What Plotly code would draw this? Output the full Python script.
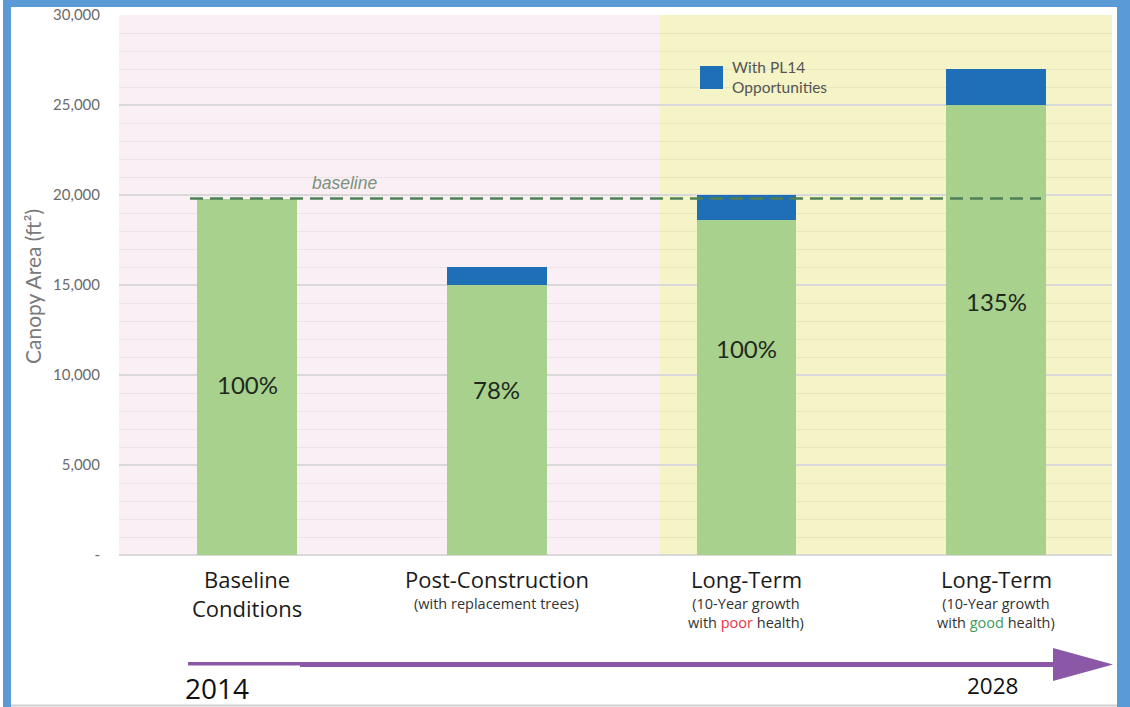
import plotly.graph_objects as go

# ---------------- data ----------------
categories = ["Baseline Conditions", "Post-Construction", "Long-Term (poor)", "Long-Term (good)"]
canopy_base = [19800, 15000, 18600, 25000]       # green portion
pl14_extra = [0, 1000, 1400, 2000]                # blue portion (With PL14 Opportunities)
pct_labels = ["100%", "78%", "100%", "135%"]
pct_label_y = [9500, 9200, 11500, 14100]
baseline_value = 19800
y_tickvals = [0, 5000, 10000, 15000, 20000, 25000, 30000]
y_ticktext = ["-", "5,000", "10,000", "15,000", "20,000", "25,000", "30,000"]
x_titles = ["Baseline<br>Conditions", "Post-Construction", "Long-Term", "Long-Term"]
x_subtitles = ["", "(with replacement trees)",
               "(10-Year growth<br>with <span style='color:#e5354c'>poor</span> health)",
               "(10-Year growth<br>with <span style='color:#3d9a5c'>good</span> health)"]
year_start, year_end = "2014", "2028"

# ---------------- layout helpers ----------------
W, H = 1130, 707
L, R, T, B = 119, 18, 15, 152
PW, PH = W - L - R, H - T - B


def px(x):
    return (x - L) / PW


def py(y):
    return (H - B - y) / PH


GREEN = "#a9d18e"
BLUE = "#1f6fb6"
PURPLE = "#8b58a8"

fig = go.Figure()
fig.add_trace(go.Bar(x=categories, y=canopy_base, marker=dict(color=GREEN, line=dict(width=0)),
                     width=0.4, showlegend=False, hoverinfo="skip"))
fig.add_trace(go.Bar(x=categories, y=pl14_extra, marker=dict(color=BLUE, line=dict(width=0)),
                     width=0.4, showlegend=False, hoverinfo="skip"))

shapes = []
# background bands
shapes.append(dict(type="rect", xref="paper", yref="paper", x0=0, x1=px(660), y0=0, y1=1,
                   fillcolor="#f9eff5", line=dict(width=0), layer="below"))
shapes.append(dict(type="rect", xref="paper", yref="paper", x0=px(660), x1=1, y0=0, y1=1,
                   fillcolor="#f4f4c6", line=dict(width=0), layer="below"))
# baseline dashed line
shapes.append(dict(type="line", xref="paper", yref="y", x0=px(190), x1=px(1041), y0=baseline_value,
                   y1=baseline_value, line=dict(color="#4f8057", width=2.5, dash="13px,7px")))
# legend swatch
shapes.append(dict(type="rect", xref="paper", yref="paper", x0=px(700), x1=px(723), y0=py(89), y1=py(66),
                   fillcolor=BLUE, line=dict(width=0)))
# timeline arrow
shapes.append(dict(type="line", xref="paper", yref="paper", x0=px(188), x1=px(1060), y0=py(664.5), y1=py(664.5),
                   line=dict(color=PURPLE, width=5)))
shapes.append(dict(type="path", xref="paper", yref="paper",
                   path=f"M {px(1053)} {py(648)} L {px(1113)} {py(664.5)} L {px(1053)} {py(681)} Z",
                   fillcolor=PURPLE, line=dict(width=0)))
# white box behind 2014
shapes.append(dict(type="rect", xref="paper", yref="paper", x0=px(150), x1=px(300), y0=py(704), y1=py(665.5),
                   fillcolor="white", line=dict(width=0)))
# frame
FRAME = "#5b9bd5"
shapes.append(dict(type="rect", xref="paper", yref="paper", x0=px(3), x1=px(11), y0=py(707), y1=py(0),
                   fillcolor=FRAME, line=dict(width=0)))
shapes.append(dict(type="rect", xref="paper", yref="paper", x0=px(3), x1=px(1130), y0=py(7), y1=py(0),
                   fillcolor=FRAME, line=dict(width=0)))
shapes.append(dict(type="rect", xref="paper", yref="paper", x0=px(1117), x1=px(1130), y0=py(707), y1=py(0),
                   fillcolor=FRAME, line=dict(width=0)))
shapes.append(dict(type="line", xref="paper", yref="paper", x0=px(11), x1=px(1117), y0=py(705.5), y1=py(705.5),
                   line=dict(color="#d0d0d0", width=2)))

ann = []
LABEL_FONT = "Open Sans"
TITLE_SIZE, SUB_SIZE = 22, 14.5


def paper_text(x, y, text, **kw):
    d = dict(x=px(x), y=py(y), xref="paper", yref="paper", text=text, showarrow=False,
             xanchor="center", yanchor="middle", borderpad=0)
    d.update(kw)
    ann.append(d)


for cat, lab, yv in zip(categories, pct_labels, pct_label_y):
    ann.append(dict(x=cat, y=yv, xref="x", yref="y", text=lab, showarrow=False,
                    xanchor="center", yanchor="middle",
                    font=dict(family="Lato", size=24, color="#1e2a1e")))
for cat, t, s in zip(categories, x_titles, x_subtitles):
    n = t.count("<br>")
    ann.append(dict(x=cat, y=py(579 + n * 1.3 * TITLE_SIZE / 2), xref="x", yref="paper", text=t,
                    showarrow=False, xanchor="center", yanchor="middle", borderpad=0,
                    font=dict(family=LABEL_FONT, size=TITLE_SIZE, color="#1a1a1a")))
    if s:
        m = s.count("<br>")
        ann.append(dict(x=cat, y=py(603.5 + m * 1.3 * SUB_SIZE / 2), xref="x", yref="paper", text=s,
                        showarrow=False, xanchor="center", yanchor="middle", borderpad=0,
                        font=dict(family=LABEL_FONT, size=SUB_SIZE, color="#333333")))

paper_text(344, 183, "<i>baseline</i>", font=dict(family="Liberation Sans", size=17.5, color="#7b927d"))
paper_text(731, 77.5, "With PL14<br>Opportunities", xanchor="left", align="left",
           font=dict(family="Lato", size=15.5, color="#555555"))
paper_text(32, 287, "Canopy Area (ft²)", textangle=-90,
           font=dict(family="Lato", size=21, color="#7a7a7a"))
paper_text(217, 688, year_start, font=dict(family=LABEL_FONT, size=28, color="#111111"))
paper_text(992, 686, year_end, font=dict(family=LABEL_FONT, size=22.5, color="#111111"))

fig.update_layout(
    width=W, height=H,
    margin=dict(l=L, r=R, t=T, b=B, autoexpand=False),
    barmode="stack",
    paper_bgcolor="white",
    plot_bgcolor="rgba(0,0,0,0)",
    shapes=shapes,
    annotations=ann,
    showlegend=False,
    xaxis=dict(range=[-0.513, 3.464], showticklabels=False, showgrid=False, zeroline=False,
               showline=False, ticks="", automargin=False),
    yaxis=dict(range=[0, 30000], tickvals=y_tickvals, ticktext=y_ticktext,
               tickfont=dict(family="Lato", size=15, color="#6b6b6b"),
               ticklabelstandoff=18, automargin=False,
               showgrid=True, gridcolor="#d9d9d9", gridwidth=2,
               minor=dict(dtick=1000, showgrid=True, gridcolor="rgba(0,0,0,0.05)", gridwidth=1),
               zeroline=True, zerolinecolor="#d9d9d9", zerolinewidth=2,
               showline=False, ticks=""),
)

fig.write_html("out.html", config={"displayModeBar": False},
               post_script="document.body.style.margin='0';document.body.style.padding='0';")
